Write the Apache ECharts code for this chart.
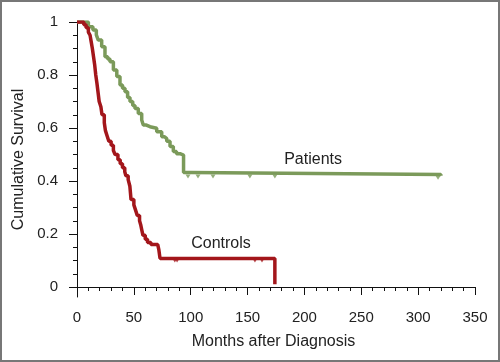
<!DOCTYPE html>
<html><head><meta charset="utf-8">
<script src="https://cdn.jsdelivr.net/npm/echarts@6/dist/echarts.min.js"></script>
<style>
html,body{margin:0;padding:0;background:#fff}
#c{position:absolute;left:0;top:0;width:500px;height:362px}
#frame{position:absolute;left:0;top:0;width:500px;height:362px;box-sizing:border-box;border:2px solid #777;pointer-events:none}
</style>
</head><body><div id="c"></div><div id="frame"></div>
<script>
// ---- data ----
const xMajorTicks = [0, 50, 100, 150, 200, 250, 300, 350];
const xMinorTicks = [10,20,30,40,60,70,80,90,110,120,130,140,160,170,180,190,210,220,230,240,260,270,280,290,310,320,330,340];
const yMajorTicks = [0, 0.2, 0.4, 0.6, 0.8, 1];
const yMinorTicks = [0.05,0.1,0.15,0.25,0.3,0.35,0.45,0.5,0.55,0.65,0.7,0.75,0.85,0.9,0.95];

const patientsMonths   = [0, 10, 14, 17, 18.7, 21.7, 24.6, 27, 29, 32, 35, 37.8, 40, 42.2, 44.5, 46.6, 49, 51, 53.9, 56.9, 58.3, 61, 64.2, 70.1, 74.5, 77, 78.9, 81.8, 84.7, 87.5, 90.6, 93.7, 100, 320];
const patientsSurvival = [1, 0.982, 0.97, 0.951, 0.932, 0.907, 0.869, 0.86, 0.85, 0.819, 0.794, 0.762, 0.75, 0.737, 0.715, 0.70, 0.685, 0.674, 0.655, 0.63, 0.611, 0.605, 0.599, 0.586, 0.567, 0.56, 0.55, 0.53, 0.511, 0.503, 0.498, 0.432, 0.425, 0.42];

const controlsMonths   = [0, 6, 8, 10, 11.5, 12.5, 13.5, 14.5, 15.5, 16.5, 17.5, 18.5, 19.5, 21, 22, 24, 25, 26.5, 28, 30, 32, 33.5, 36, 38, 40, 42, 43, 45, 46.5, 47, 47.5, 50, 51.5, 53, 55, 56, 57, 58, 60, 62, 65, 71, 72, 73, 174];
const controlsSurvival = [1, 0.99, 0.978, 0.962, 0.95, 0.925, 0.9, 0.87, 0.84, 0.8, 0.77, 0.735, 0.7, 0.68, 0.65, 0.62, 0.59, 0.57, 0.55, 0.535, 0.515, 0.5, 0.48, 0.465, 0.45, 0.435, 0.42, 0.405, 0.38, 0.355, 0.33, 0.31, 0.29, 0.27, 0.25, 0.235, 0.215, 0.195, 0.18, 0.168, 0.16, 0.155, 0.14, 0.108, 0.01];

const patientsCensorMonths   = [97.6, 106.4, 119.6, 152, 174, 317.5];
const patientsCensorSurvival = [0.425, 0.425, 0.425, 0.425, 0.425, 0.42];
const controlsCensorMonths   = [86, 88, 156.5, 162.7];
const controlsCensorSurvival = [0.108, 0.108, 0.108, 0.108];

const seriesNames = ['Patients', 'Controls'];
const labelPositions = [[207.6, 0.479], [126.6, 0.162]];

// ---- chart ----
const green = '#7b9a5a', red = '#a3161b', ink = '#222';
const font = '"Liberation Sans", Arial, Helvetica, sans-serif';
const zip = (a, b) => a.map((v, i) => [v, b[i]]);

const chart = echarts.init(document.getElementById('c'), null, {renderer: 'canvas'});
const xBase = {type: 'value', min: -4.4, max: 350, position: 'bottom', splitLine: {show: false}};
const yBase = {type: 'value', min: -0.0377, max: 1, position: 'left', splitLine: {show: false}};

chart.setOption({
  animation: false,
  grid: {left: 72, right: 25, top: 22, bottom: 65, containLabel: false},
  xAxis: [
    Object.assign({}, xBase, {
      axisLine: {show: true, lineStyle: {color: '#111', width: 1}},
      axisTick: {show: true, length: 8, customValues: xMajorTicks, lineStyle: {color: '#111'}},
      axisLabel: {show: true, customValues: xMajorTicks, fontSize: 15, color: ink, fontFamily: font, margin: 13},
      name: 'Months after Diagnosis', nameLocation: 'middle', nameGap: 37,
      nameTextStyle: {fontSize: 16, color: ink, fontFamily: font}
    }),
    Object.assign({}, xBase, {
      axisLine: {show: false},
      axisTick: {show: true, length: 4, customValues: xMinorTicks, lineStyle: {color: '#111'}},
      axisLabel: {show: false}
    })
  ],
  yAxis: [
    Object.assign({}, yBase, {
      axisLine: {show: true, lineStyle: {color: '#111', width: 1}},
      axisTick: {show: true, length: 8, customValues: yMajorTicks, lineStyle: {color: '#111'}},
      axisLabel: {show: true, customValues: yMajorTicks, fontSize: 15, color: ink, fontFamily: font, margin: 14},
      name: 'Cumulative Survival', nameLocation: 'middle', nameGap: 44,
      nameTextStyle: {fontSize: 16, color: ink, fontFamily: font}
    }),
    Object.assign({}, yBase, {
      axisLine: {show: false},
      axisTick: {show: true, length: 4, customValues: yMinorTicks, lineStyle: {color: '#111'}},
      axisLabel: {show: false}
    })
  ],
  series: [
    {
      name: seriesNames[0], type: 'line', step: 'end', showSymbol: false,
      data: zip(patientsMonths, patientsSurvival),
      lineStyle: {color: green, width: 3.5}, itemStyle: {color: green},
      markPoint: {
        symbol: 'rect', symbolSize: 0,
        label: {show: true, position: 'inside', formatter: seriesNames[0], fontSize: 16, color: ink, fontFamily: font},
        data: [{coord: labelPositions[0]}]
      }
    },
    {
      name: seriesNames[1], type: 'line', step: 'end', showSymbol: false,
      data: zip(controlsMonths, controlsSurvival),
      lineStyle: {color: red, width: 3.5}, itemStyle: {color: red},
      markPoint: {
        symbol: 'rect', symbolSize: 0,
        label: {show: true, position: 'inside', formatter: seriesNames[1], fontSize: 16, color: ink, fontFamily: font},
        data: [{coord: labelPositions[1]}]
      }
    },
    {
      type: 'scatter', data: zip(patientsCensorMonths, patientsCensorSurvival),
      symbol: 'triangle', symbolRotate: 180, symbolSize: [5, 4], symbolOffset: [0, 2],
      itemStyle: {color: green}
    },
    {
      type: 'scatter', data: zip(controlsCensorMonths, controlsCensorSurvival),
      symbol: 'triangle', symbolRotate: 180, symbolSize: [5, 4], symbolOffset: [0, 2],
      itemStyle: {color: red}
    }
  ]
});
</script>
</body></html>
